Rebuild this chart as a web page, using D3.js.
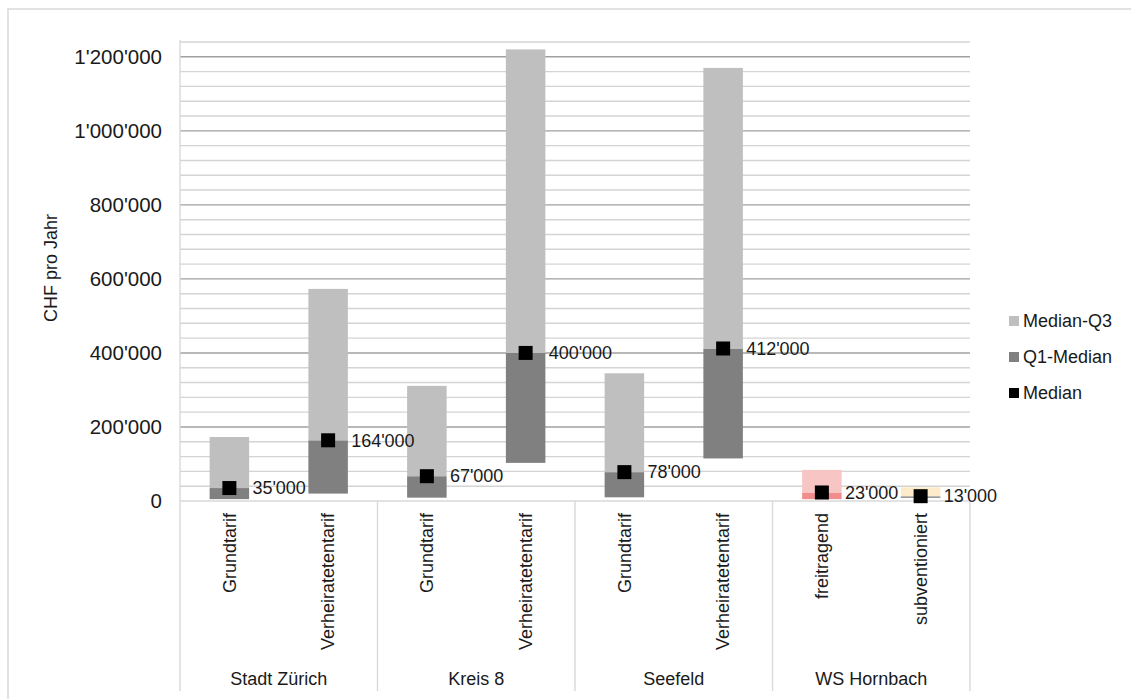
<!DOCTYPE html>
<html>
<head>
<meta charset="utf-8">
<script src="https://cdn.jsdelivr.net/npm/d3@7/dist/d3.min.js"></script>
<style>
  html, body { margin: 0; padding: 0; background: #fff; }
  svg { display: block; font-family: "Liberation Sans", Arial, sans-serif; }
</style>
</head>
<body>
<svg id="chart" width="1131" height="699"></svg>
<script>
// Einkommensverteilung: Q1, Median, Q3 je Gebiet und Tarif (CHF pro Jahr)
const groups = ["Stadt Zürich", "Kreis 8", "Seefeld", "WS Hornbach"];
const categories = ["Grundtarif", "Verheiratetentarif", "Grundtarif", "Verheiratetentarif",
                    "Grundtarif", "Verheiratetentarif", "freitragend", "subventioniert"];
const q1Values     = [5000, 20000, 9000, 103000, 10000, 115000, 5000, 8000];
const medianValues = [35000, 164000, 67000, 400000, 78000, 412000, 23000, 13000];
const q3Values     = [173000, 573000, 311000, 1220000, 345000, 1170000, 84000, 37000];
const medianLabels = ["35'000", "164'000", "67'000", "400'000", "78'000", "412'000", "23'000", "13'000"];
const yTicks = [0, 200000, 400000, 600000, 800000, 1000000, 1200000];
const seriesNames = ["Median-Q3", "Q1-Median", "Median"];

// Farben pro Balken: [Median-Q3, Q1-Median]
const upperColors = ["#bfbfbf", "#bfbfbf", "#bfbfbf", "#bfbfbf", "#bfbfbf", "#bfbfbf", "#f8c5c5", "#fdebc9"];
const lowerColors = ["#808080", "#808080", "#808080", "#808080", "#808080", "#808080", "#f28d8d", "#9a9a9a"];
const legendColors = ["#bfbfbf", "#808080", "#000000"];

const svg = d3.select("#chart");
const plotLeft = 180, plotRight = 970, plotTop = 42, zeroY = 501, plotBottom = 691;

// Rahmen
svg.append("rect").attr("x", 8).attr("y", 9).attr("width", 1140).attr("height", 700)
  .attr("fill", "none").attr("stroke", "#d9d9d9").attr("stroke-width", 1.5);

const x = d3.scaleBand().domain(d3.range(categories.length)).range([plotLeft, plotRight]).padding(0);
const y = d3.scaleLinear().domain([0, 1240000]).range([zeroY, plotTop]);
const barW = x.bandwidth() * 0.4;

// Gitterlinien: Hilfslinien alle 40'000, Hauptlinien alle 200'000
const minor = d3.range(40000, 1240001, 40000).filter(v => v % 200000 !== 0);
svg.append("g").selectAll("line").data(minor).join("line")
  .attr("x1", plotLeft).attr("x2", plotRight)
  .attr("y1", d => y(d)).attr("y2", d => y(d))
  .attr("stroke", "#d4d4d4").attr("stroke-width", 1.4);
svg.append("g").selectAll("line").data(yTicks.filter(v => v > 0)).join("line")
  .attr("x1", plotLeft).attr("x2", plotRight)
  .attr("y1", d => y(d)).attr("y2", d => y(d))
  .attr("stroke", "#a0a0a0").attr("stroke-width", 1.4);

// Achsenlinien
svg.append("line").attr("x1", plotLeft).attr("x2", plotRight).attr("y1", zeroY).attr("y2", zeroY)
  .attr("stroke", "#d9d9d9").attr("stroke-width", 1.4);
svg.append("line").attr("x1", plotLeft).attr("x2", plotLeft).attr("y1", plotTop - 2).attr("y2", plotBottom)
  .attr("stroke", "#d9d9d9").attr("stroke-width", 1.4);
// Gruppentrenner unterhalb der Achse
const sepIdx = [2, 4, 6, 8];
svg.append("g").selectAll("line").data(sepIdx).join("line")
  .attr("x1", d => d < 8 ? x(d) : plotRight).attr("x2", d => d < 8 ? x(d) : plotRight)
  .attr("y1", zeroY).attr("y2", plotBottom)
  .attr("stroke", "#d9d9d9").attr("stroke-width", 1.4);

// Y-Achse
const yAxis = d3.axisLeft(y).tickValues(yTicks).tickSize(0).tickPadding(0)
  .tickFormat(d => d3.format(",")(d).replace(/,/g, "'"));
const gy = svg.append("g").attr("transform", `translate(${plotLeft - 18},0)`).call(yAxis);
gy.select(".domain").remove();
gy.selectAll("text").attr("font-size", 20.5).attr("fill", "#1a1a1a")
  .attr("font-family", "Liberation Sans, Arial, sans-serif");

svg.append("text").attr("transform", "translate(57,268) rotate(-90)")
  .attr("text-anchor", "middle").attr("font-size", 18).attr("fill", "#1a1a1a")
  .text("CHF pro Jahr");

// Balken: Q1-Median und Median-Q3 (schwebend ab Q1)
const idx = d3.range(categories.length);
const cx = i => x(i) + x.bandwidth() / 2;
svg.append("g").selectAll("rect").data(idx).join("rect")
  .attr("x", i => cx(i) - barW / 2).attr("width", barW)
  .attr("y", i => y(medianValues[i])).attr("height", i => y(q1Values[i]) - y(medianValues[i]))
  .attr("fill", i => lowerColors[i]);
svg.append("g").selectAll("rect").data(idx).join("rect")
  .attr("x", i => cx(i) - barW / 2).attr("width", barW)
  .attr("y", i => y(q3Values[i])).attr("height", i => y(medianValues[i]) - y(q3Values[i]))
  .attr("fill", i => upperColors[i]);

// Median-Marker
const mk = 14;
svg.append("g").selectAll("rect").data(idx).join("rect")
  .attr("x", i => cx(i) - mk / 2).attr("y", i => y(medianValues[i]) - mk / 2)
  .attr("width", mk).attr("height", mk).attr("fill", "#000");

// Wertbeschriftungen
svg.append("g").selectAll("text").data(idx).join("text")
  .attr("x", i => cx(i) + 23).attr("y", i => y(medianValues[i]))
  .attr("dy", "0.35em").attr("font-size", 18).attr("fill", "#1a1a1a")
  .text(i => medianLabels[i]);

// Kategorienbeschriftungen (vertikal)
svg.append("g").selectAll("text").data(idx).join("text")
  .attr("transform", i => `translate(${cx(i)},513) rotate(-90)`)
  .attr("text-anchor", "end").attr("dy", "0.35em")
  .attr("font-size", 18).attr("fill", "#1a1a1a")
  .text(i => categories[i]);

// Gruppenbeschriftungen
svg.append("g").selectAll("text").data(groups).join("text")
  .attr("x", (d, g) => (x(g * 2) + x(g * 2 + 1) + x.bandwidth()) / 2)
  .attr("y", 685).attr("text-anchor", "middle")
  .attr("font-size", 18).attr("fill", "#1a1a1a")
  .text(d => d);

// Legende
const lg = svg.append("g").selectAll("g").data(seriesNames).join("g")
  .attr("transform", (d, i) => `translate(1009,${321 + i * 36})`);
lg.append("rect").attr("x", 0).attr("y", -5).attr("width", 10).attr("height", 10)
  .attr("fill", (d, i) => legendColors[i]);
lg.append("text").attr("x", 14).attr("dy", "0.35em").attr("font-size", 18)
  .attr("fill", "#1a1a1a").text(d => d);
</script>
</body>
</html>
